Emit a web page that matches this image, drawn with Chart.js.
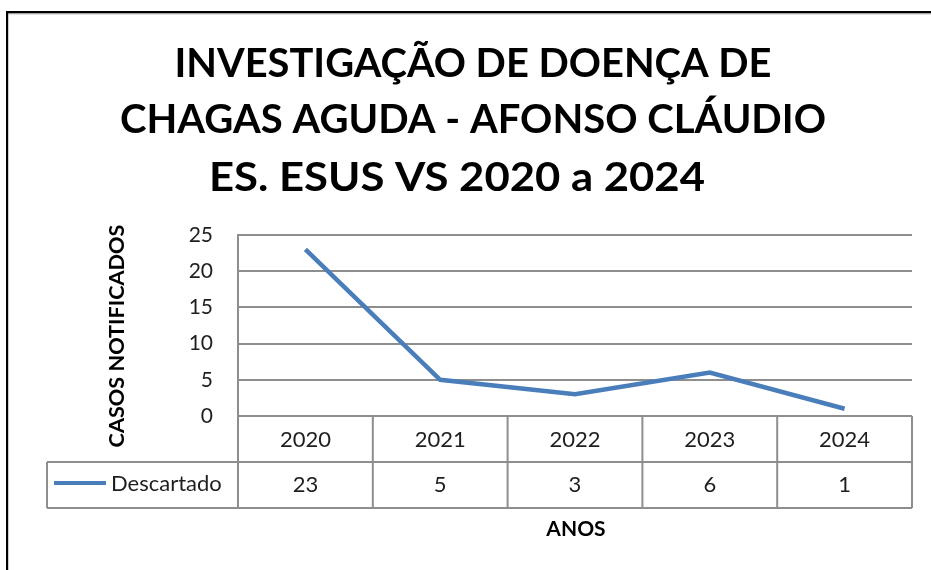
<!DOCTYPE html>
<html>
<head>
<meta charset="utf-8">
<script src="https://cdn.jsdelivr.net/npm/chart.js@4"></script>
<style>
  html,body{margin:0;padding:0;background:#fff;}
  canvas{display:block;}
</style>
</head>
<body>
<canvas id="chart" width="931" height="570"></canvas>
<script>
// data
const years=['2020','2021','2022','2023','2024'];
const descartado=[23,5,3,6,1];
const seriesName='Descartado';
const titleLines=['INVESTIGAÇÃO DE DOENÇA DE','CHAGAS AGUDA - AFONSO CLÁUDIO','ES. ESUS VS 2020 a 2024'];
const yTitle='CASOS NOTIFICADOS';
const xTitle='ANOS';

const FONT='Lato, "Open Sans", sans-serif';
const lineBlue='#4a7ebb';
const gridGray='#8e8e8e';
const textCol='#1e1e1e';

// size a font so the text fills the given width
function fitSize(ctx,text,weight,width){
  ctx.font=weight+' 100px '+FONT;
  return 100*width/ctx.measureText(text).width;
}

const decor={
  id:'decor',
  afterDraw(chart){
    const ctx=chart.ctx, a=chart.chartArea, x=chart.scales.x;
    ctx.save();
    // outer frame
    ctx.fillStyle='#c8c8c8'; ctx.fillRect(8,13,923,1.5);
    ctx.fillStyle='#000'; ctx.fillRect(6,11,925,2.2); ctx.fillRect(6,11,2.2,559);

    // title: same height for each line, stretched to the widths in the original
    const ts=fitSize(ctx,titleLines[1],'bold',706);
    ctx.font='bold '+ts+'px '+FONT; ctx.fillStyle='#000';
    ctx.textAlign='center'; ctx.textBaseline='alphabetic';
    const cx=[473,473,457], by=[77,133,191], tw=[597,706,496];
    titleLines.forEach((t,i)=>{
      const sx=tw[i]/ctx.measureText(t).width;
      ctx.save(); ctx.translate(cx[i],by[i]); ctx.scale(sx,1);
      ctx.fillText(t,0,0); ctx.restore();
    });

    // y axis title
    const ys=fitSize(ctx,yTitle,'bold',223);
    ctx.save(); ctx.translate(117,336); ctx.rotate(-Math.PI/2);
    ctx.font='bold '+ys+'px '+FONT; ctx.textBaseline='middle';
    ctx.fillText(yTitle,0,0); ctx.restore();

    // data table under the axis
    const rowH=46, top=a.bottom, mid=top+rowH, bot=top+2*rowH, legLeft=47;
    const step=x.getPixelForValue(1)-x.getPixelForValue(0);
    ctx.strokeStyle=gridGray; ctx.lineWidth=2;
    ctx.beginPath();
    ctx.moveTo(legLeft,mid); ctx.lineTo(a.right,mid);
    ctx.moveTo(legLeft,bot); ctx.lineTo(a.right,bot);
    ctx.moveTo(legLeft,mid); ctx.lineTo(legLeft,bot);
    for(let i=0;i<=years.length;i++){
      const px=x.getPixelForValue(0)-step/2+i*step;
      ctx.moveTo(px,top); ctx.lineTo(px,bot);
    }
    ctx.stroke();

    ctx.font='22px '+FONT; ctx.fillStyle=textCol; ctx.textBaseline='middle'; ctx.textAlign='center';
    years.forEach((y,i)=>{
      const px=x.getPixelForValue(i);
      ctx.fillText(y,px,top+rowH/2+1);
      ctx.fillText(String(descartado[i]),px,mid+rowH/2);
    });
    // legend key
    ctx.strokeStyle=lineBlue; ctx.lineWidth=4; ctx.lineCap='butt';
    ctx.beginPath(); ctx.moveTo(54,mid+rowH/2-2); ctx.lineTo(106,mid+rowH/2-2); ctx.stroke();
    ctx.textAlign='left'; ctx.fillText(seriesName,111,mid+rowH/2-1);

    // x axis title
    ctx.font='bold 21px '+FONT; ctx.fillStyle='#000'; ctx.textAlign='center';
    ctx.fillText(xTitle,576,529);
    ctx.restore();
  }
};

new Chart(document.getElementById('chart'),{
  type:'line',
  data:{labels:years,datasets:[{label:seriesName,data:descartado,borderColor:lineBlue,
    borderWidth:4.5,pointRadius:0,tension:0,fill:false}]},
  options:{
    responsive:false,animation:false,
    layout:{padding:{top:235,left:0,right:19,bottom:154}},
    plugins:{legend:{display:false},title:{display:false},tooltip:{enabled:false}},
    scales:{
      x:{display:false,offset:true},
      y:{min:0,max:25,
        ticks:{stepSize:5,padding:25,color:textCol,font:{family:FONT,size:21}},
        grid:{color:gridGray,lineWidth:2,drawTicks:false},
        border:{display:true,color:gridGray,width:2},
        afterFit(s){ s.width=238; }}
    }
  },
  plugins:[decor]
});
</script>
</body>
</html>
